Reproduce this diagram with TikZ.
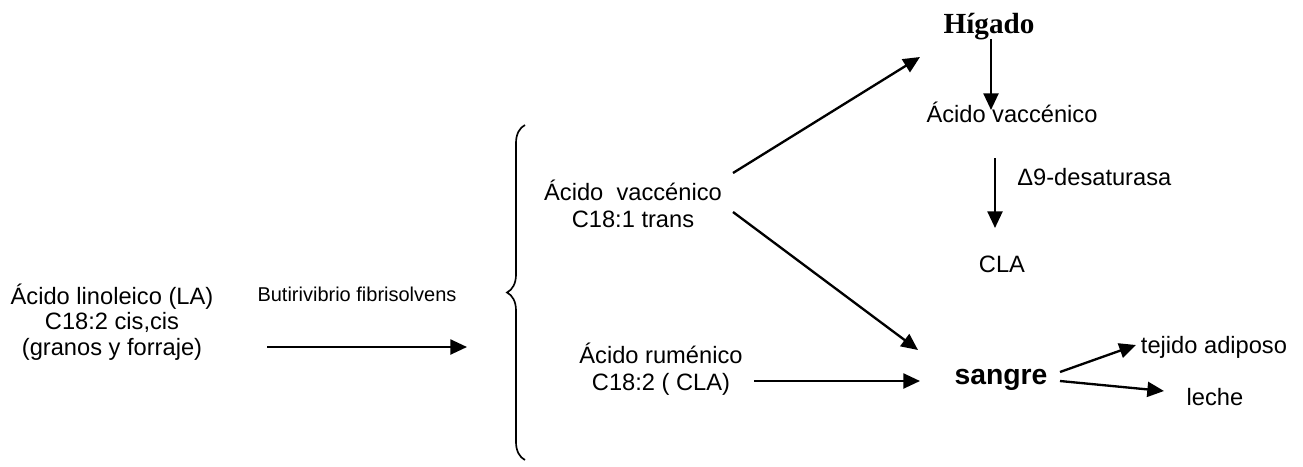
\documentclass[tikz,border=0pt]{standalone}
\usepackage{fontspec}
\setmainfont{Liberation Sans}
\newfontfamily\timesfont{Liberation Serif}
\usetikzlibrary{arrows.meta,decorations.pathreplacing}
\tikzset{
  txt/.style={inner sep=0pt, anchor=base, align=center, font=\fontsize{14.2}{16.2}\selectfont},
  big/.style={inner sep=0pt, anchor=base, font=\fontsize{17}{20}\selectfont\bfseries},
  arr/.style={line width=1.4pt, -{Triangle[length=10pt, width=9pt]}}
}
\begin{document}
\begin{tikzpicture}[x=0.6pt, y=-0.6pt]
\useasboundingbox (0,0) rectangle (1303,466);
% left part (base = last line)
\node[txt, font=\fontsize{14.2}{15.2}\selectfont] (la) at (112, 355) {Ácido linoleico (LA)\\C18:2 cis,cis\\(granos y forraje)};
\node[txt, font=\fontsize{12}{14}\selectfont] (bf) at (357, 301) {Butirivibrio fibrisolvens};
\coordinate (la-e) at (267, 347);
\coordinate (br-w) at (467, 347);
\draw[arr] (la-e) -- (br-w);
\draw[line width=1pt, decorate, decoration={brace, amplitude=10.8pt}] (525, 460) -- (525, 125);
% products
\node[txt] (vac) at (633, 227) {Ácido\ \ vaccénico\\C18:1 trans};
\node[txt] (rum) at (661, 390) {Ácido ruménico\\C18:2 ( CLA)};
\node[big, font=\fontsize{17.5}{20}\selectfont\bfseries\timesfont] (hig) at (989, 33) {Hígado};
\node[txt] (vac2) at (1012, 122) {Ácido vaccénico};
\node[txt, anchor=base west] (desat) at (1017, 185) {Δ9-desaturasa};
\node[txt] (cla) at (1002, 272) {CLA};
\node[big] (sang) at (1001, 384) {sangre};
\node[txt] (tej) at (1214, 353) {tejido adiposo};
\node[txt] (lec) at (1215, 405) {leche};
% arrow ends
\coordinate (vac-a) at (733, 173);
\coordinate (hig-a) at (920, 57);
\coordinate (vac-b) at (733, 212);
\coordinate (sang-a) at (918, 350);
\coordinate (rum-a) at (754, 381);
\coordinate (sang-b) at (920, 381);
\coordinate (hig-s) at (991, 39);
\coordinate (vac2-n) at (991, 110);
\coordinate (vac2-s) at (995, 158);
\coordinate (cla-n) at (995, 228);
\coordinate (sang-c) at (1060, 372);
\coordinate (tej-w) at (1136, 345);
\coordinate (sang-d) at (1060, 381);
\coordinate (lec-w) at (1164, 391);
\draw[arr] (vac-a) -- (hig-a);
\draw[arr] (vac-b) -- (sang-a);
\draw[arr] (rum-a) -- (sang-b);
\draw[arr] (hig-s) -- (vac2-n);
\draw[arr] (vac2-s) -- (cla-n);
\draw[arr] (sang-c) -- (tej-w);
\draw[arr] (sang-d) -- (lec-w);
\end{tikzpicture}
\end{document}
